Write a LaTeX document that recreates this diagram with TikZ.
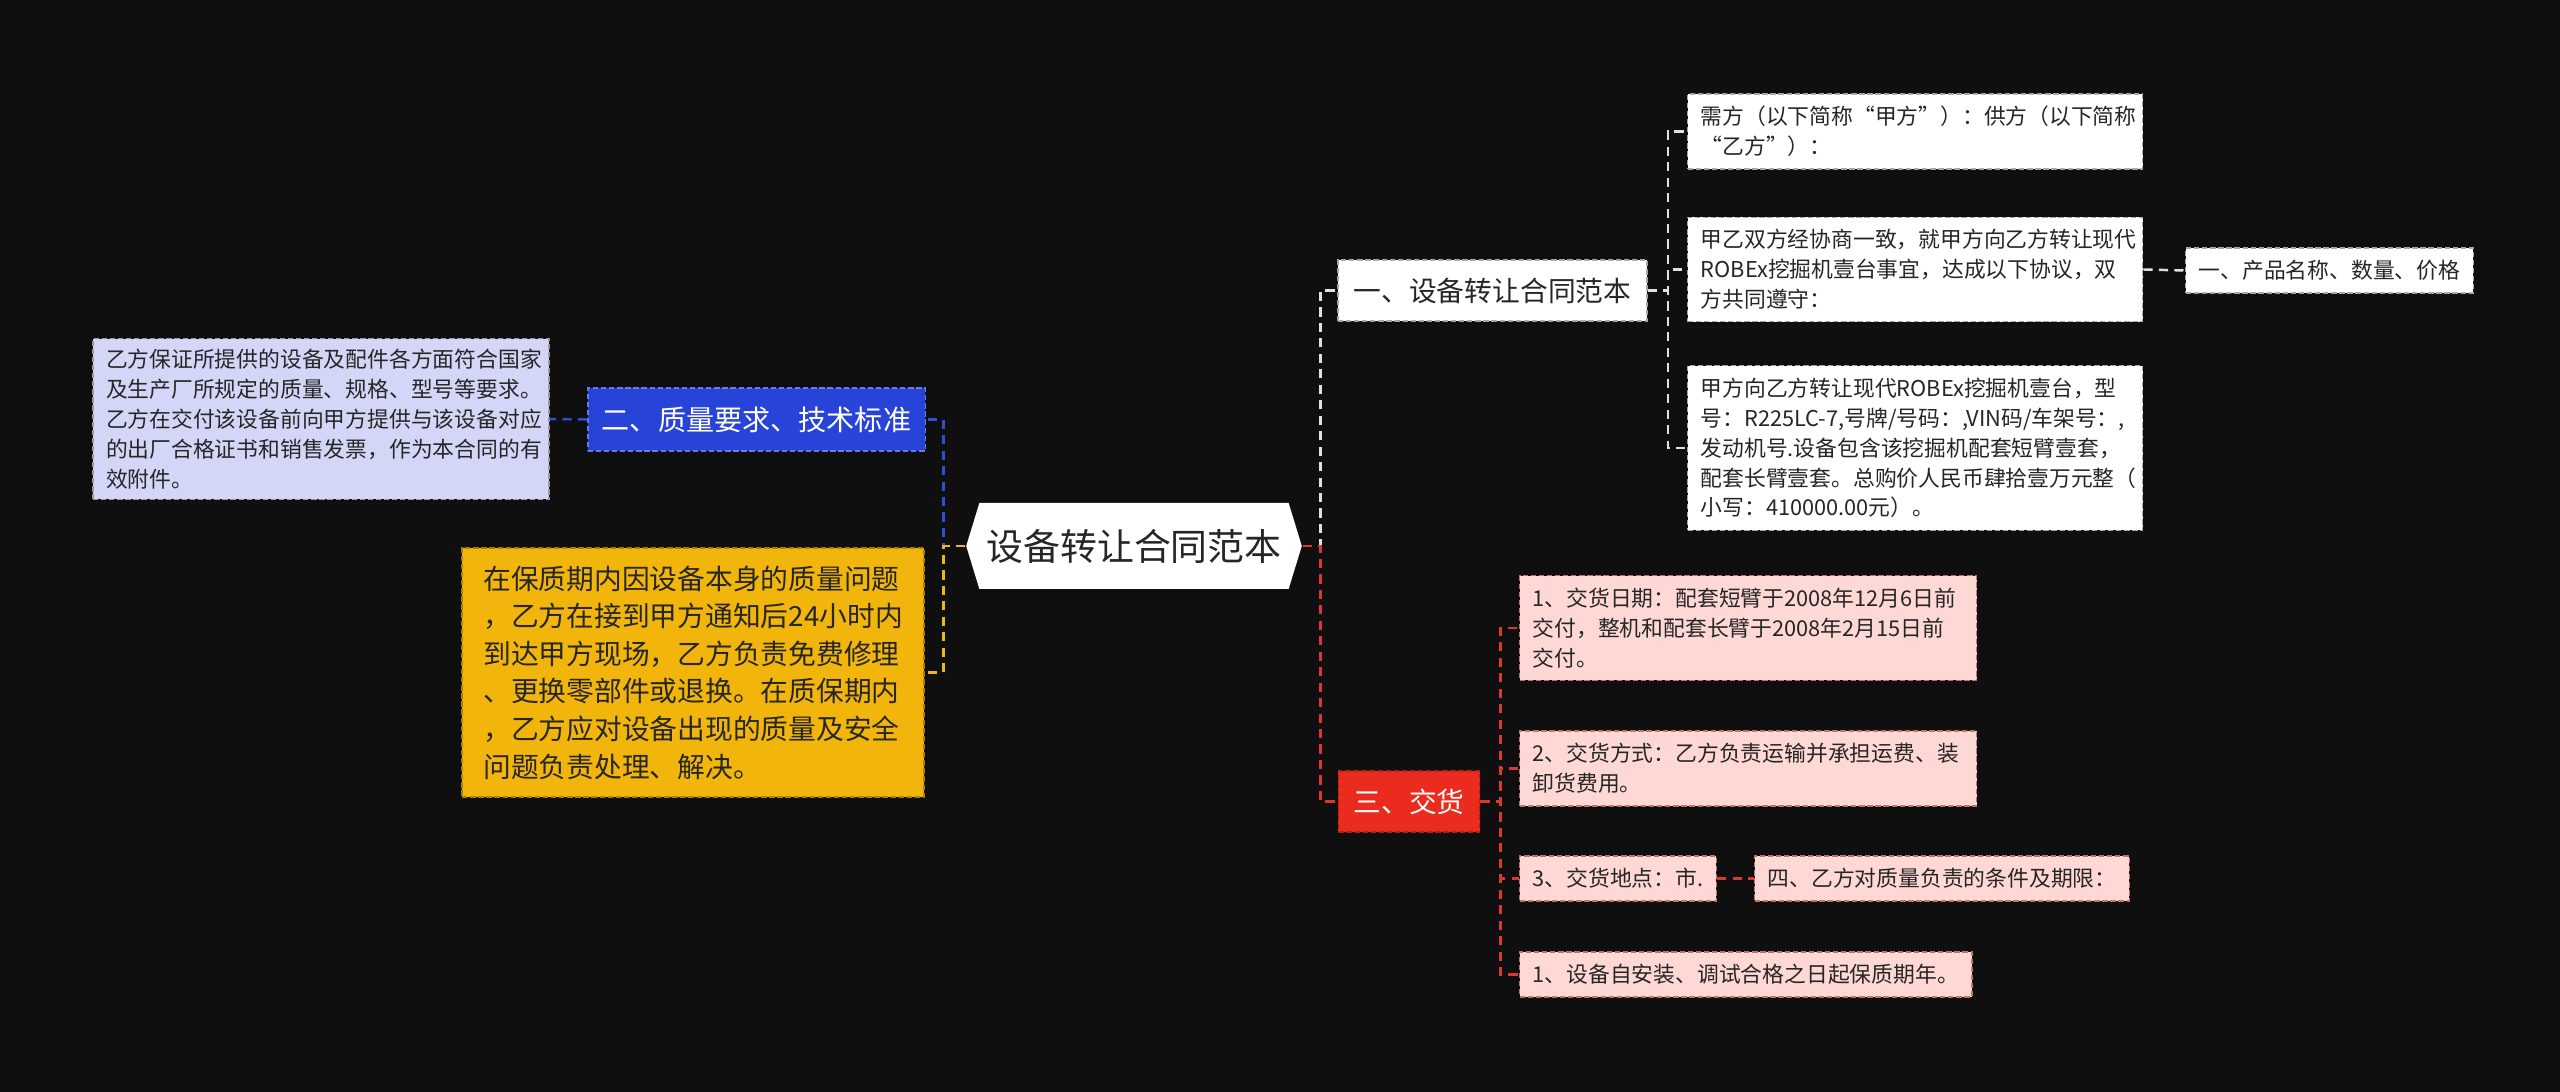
\documentclass[tikz,border=0pt]{standalone}
\usepackage{fontspec}
\setmainfont{Noto Sans CJK SC}
\usepackage{xcolor}
\usepackage{tikz}
\usetikzlibrary{positioning,shapes.symbols}

\definecolor{bgdark}{HTML}{0F0F10}
\definecolor{qblue}{HTML}{2843D8}
\definecolor{qlav}{HTML}{D3D6F7}
\definecolor{qyellow}{HTML}{F1B50B}
\definecolor{qred}{HTML}{EA2B1D}
\definecolor{qpink}{HTML}{FDD8D4}
\definecolor{lnred}{HTML}{D93A2C}
\definecolor{lnblue}{HTML}{2F4ED8}
\definecolor{lnyellow}{HTML}{F0B51A}

\begin{document}
\begin{tikzpicture}[
    conn/.style={line width=0.7pt, dash pattern=on 2.6pt off 1.8pt},
    wline/.style={conn, draw=white!88!black},
    rline/.style={conn, draw=lnred},
    bline/.style={conn, draw=lnblue},
    yline/.style={conn, draw=lnyellow},
    topic/.style={draw, dash pattern=on 1.5pt off 0.8pt, line width=0.4pt,
        inner xsep=4.5pt, inner ysep=5pt, font=\fontsize{7.9}{10.7}\selectfont},
    leaf/.style={draw, dash pattern=on 1.5pt off 0.8pt, line width=0.4pt,
        inner xsep=3.7pt, inner ysep=3.5pt, align=left,
        font=\fontsize{6.2}{8.5}\selectfont, text=black!85},
    wbox/.style={leaf, fill=white, draw=black!35},
    pbox/.style={leaf, fill=qpink, draw=lnred!45!qpink!80!black}
]
    \useasboundingbox (0,0) rectangle (25.6,-10.92);
    \fill[bgdark] (0,0) rectangle (25.6,-10.92);

    % central topic
    \node[signal, signal to=west and east, signal pointer angle=146, fill=white,
        minimum width=3.35cm, minimum height=0.86cm, inner xsep=2pt,
        font=\fontsize{10.5}{12}\selectfont, text=black!85] (root) at (11.34,-5.46) {设备转让合同范本};

    % branch one
    \node[topic, fill=white, draw=black!35, text=black!85] (one) at (14.925,-2.905) {一、设备转让合同范本};
    \node[wbox, text width=4.29cm, anchor=west] (a1) at (16.87,-1.315) {需方（以下简称“甲方”）：供方（以下简称\\“乙方”）：};
    \node[wbox, text width=4.29cm, anchor=west] (a2) at (16.87,-2.695) {甲乙双方经协商一致，就甲方向乙方转让现代\\ROBEx挖掘机壹台事宜，达成以下协议，双\\方共同遵守：};
    \node[wbox, anchor=west] (a2a) at (21.85,-2.705) {一、产品名称、数量、价格};
    \node[wbox, text width=4.29cm, anchor=west] (a3) at (16.87,-4.48) {甲方向乙方转让现代ROBEx挖掘机壹台，型\\号：R225LC-7,号牌/号码：,VIN码/车架号：,\\发动机号.设备包含该挖掘机配套短臂壹套，\\配套长臂壹套。总购价人民币肆拾壹万元整（\\小写：410000.00元）。};

    % branch three
    \node[topic, fill=qred, draw=qred!75!black, text=white, inner xsep=4.3pt] (three) at (14.09,-8.015) {三、交货};
    \node[pbox, text width=4.31cm, anchor=west] (c1) at (15.19,-6.28) {1、交货日期：配套短臂于2008年12月6日前\\交付，整机和配套长臂于2008年2月15日前\\交付。};
    \node[pbox, text width=4.31cm, anchor=west] (c2) at (15.19,-7.685) {2、交货方式：乙方负责运输并承担运费、装\\卸货费用。};
    \node[pbox, anchor=west] (c3) at (15.19,-8.785) {3、交货地点：市.};
    \node[pbox, anchor=west] (c3a) at (17.54,-8.785) {四、乙方对质量负责的条件及期限：};
    \node[pbox, anchor=west] (c4) at (15.19,-9.745) {1、设备自安装、调试合格之日起保质期年。};

    % branch two
    \node[topic, fill=qblue, draw=qblue!70!white, text=white,
        font=\fontsize{8.0}{10.7}\selectfont, inner xsep=4pt, inner ysep=5.3pt] (two) at (7.565,-4.195) {二、质量要求、技术标准};
    \node[leaf, fill=qlav, draw=black!40, text width=4.3cm, inner ysep=3pt,
        text=black!85] (b1) at (3.21,-4.19) {乙方保证所提供的设备及配件各方面符合国家\\及生产厂所规定的质量、规格、型号等要求。\\乙方在交付该设备前向甲方提供与该设备对应\\的出厂合格证书和销售发票，作为本合同的有\\效附件。};

    % warranty topic
    \node[topic, fill=qyellow, draw=qyellow!70!black, text=black!85, align=left,
        inner xsep=6pt, inner ysep=5pt] (warranty) at (6.93,-6.725) {在保质期内因设备本身的质量问题\\，乙方在接到甲方通知后24小时内\\到达甲方现场，乙方负责免费修理\\、更换零部件或退换。在质保期内\\，乙方应对设备出现的质量及安全\\问题负责处理、解决。};

    % connectors right
    \draw[wline] (root.east) -- ++(0.18,0) |- (one.west);
    \draw[rline] (root.east) -- ++(0.18,0) |- (three.west);
    \draw[wline] (one.east) -- ++(0.2,0) |- (a1.west);
    \draw[wline] (one.east) -- ++(0.2,0) |- (a2.west);
    \draw[wline] (one.east) -- ++(0.2,0) |- (a3.west);
    \draw[wline] (a2.east) -- (a2a.west);
    \draw[rline] (three.east) -- ++(0.2,0) |- (c1.west);
    \draw[rline] (three.east) -- ++(0.2,0) |- (c2.west);
    \draw[rline] (three.east) -- ++(0.2,0) |- (c3.west);
    \draw[rline] (three.east) -- ++(0.2,0) |- (c4.west);
    \draw[rline] (c3.east) -- (c3a.west);

    % connectors left
    \draw[bline] (root.west) -- ++(-0.22,0) |- (two.east);
    \draw[yline] (root.west) -- ++(-0.22,0) |- (warranty.east);
    \draw[bline] (two.west) -- (b1.east);
\end{tikzpicture}
\end{document}
